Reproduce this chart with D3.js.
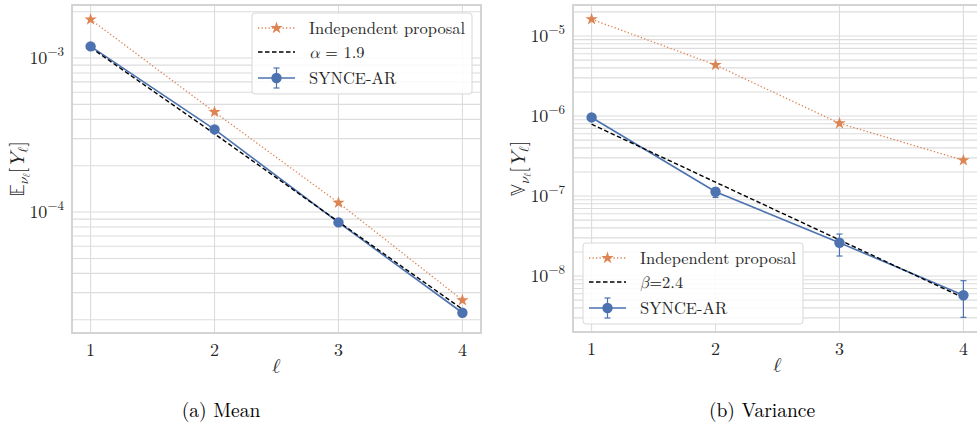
<!DOCTYPE html>
<html>
<head>
<meta charset="utf-8">
<script src="https://cdn.jsdelivr.net/npm/d3@7"></script>
<style>
  body { margin: 0; background: #fff; }
</style>
</head>
<body>
<div id="page"></div>
<script>
// levels on the x axis
const levels = [1, 2, 3, 4];
const xTicks = [1, 2, 3, 4];

// (a) mean
const meanIndep = [1.78e-3, 4.46e-4, 1.15e-4, 2.68e-5];
const meanRate = [1.17e-3, 3.22e-4, 8.65e-5, 2.34e-5];
const meanSynce = [1.19e-3, 3.44e-4, 8.57e-5, 2.22e-5];
const meanSynceLo = [1.17e-3, 3.38e-4, 8.45e-5, 2.18e-5];
const meanSynceHi = [1.21e-3, 3.50e-4, 8.69e-5, 2.26e-5];
const meanTicks = [1e-4, 1e-3];

// (b) variance
const varIndep = [1.62e-5, 4.34e-6, 8.1e-7, 2.8e-7];
const varRate = [7.9e-7, 1.49e-7, 2.83e-8, 5.36e-9];
const varSynce = [9.6e-7, 1.13e-7, 2.61e-8, 5.76e-9];
const varSynceLo = [9.3e-7, 9.6e-8, 1.78e-8, 3.05e-9];
const varSynceHi = [9.9e-7, 1.25e-7, 3.35e-8, 8.75e-9];
const varTicks = [1e-8, 1e-7, 1e-6, 1e-5];

const blue = '#4c72b0';
const orange = '#dd8452';
const gridColor = '#dcdcdc';
const textColor = '#262626';
const mathFont = '"Latin Modern Math", "Latin Modern Roman", serif';

const width = 977;
const height = 427;

const svg = d3.select('#page')
              .append('svg')
              .attr('width', width)
              .attr('height', height)
              .attr('font-family', '"Latin Modern Roman", "Liberation Serif", serif');

function drawPanel(p) {
    const x = d3.scaleLinear().domain([0.85, 4.15]).range([p.left, p.left + 409]);
    const y = d3.scaleLog().domain(p.yDomain).range([p.bottom, p.top]);

    const defs = svg.append('defs');
    defs.append('clipPath').attr('id', p.id + '-clip')
        .append('rect')
        .attr('x', p.left).attr('y', p.top)
        .attr('width', 409).attr('height', p.bottom - p.top);

    const g = svg.append('g');

    // minor + major horizontal grid
    const lo = Math.floor(Math.log10(p.yDomain[0]));
    const hi = Math.ceil(Math.log10(p.yDomain[1]));
    const minor = [];
    for (let k = lo; k <= hi; k++) {
        for (let m = 1; m <= 9; m++) {
            const v = m * Math.pow(10, k);
            if (v > p.yDomain[0] && v < p.yDomain[1]) minor.push(v);
        }
    }
    g.selectAll('.hgrid')
     .data(minor)
     .enter()
     .append('line')
     .attr('x1', p.left).attr('x2', p.left + 409)
     .attr('y1', d => y(d)).attr('y2', d => y(d))
     .attr('stroke', gridColor)
     .attr('stroke-width', 1.1);

    g.selectAll('.vgrid')
     .data(xTicks)
     .enter()
     .append('line')
     .attr('x1', d => x(d)).attr('x2', d => x(d))
     .attr('y1', p.top).attr('y2', p.bottom)
     .attr('stroke', gridColor)
     .attr('stroke-width', 1.1);

    // frame
    g.append('rect')
     .attr('x', p.left).attr('y', p.top)
     .attr('width', 409).attr('height', p.bottom - p.top)
     .attr('fill', 'none')
     .attr('stroke', '#d0d0d0')
     .attr('stroke-width', 1.8);

    // tick labels
    g.selectAll('.xt')
     .data(xTicks)
     .enter()
     .append('text')
     .attr('x', d => x(d))
     .attr('y', p.bottom + 23)
     .attr('text-anchor', 'middle')
     .attr('fill', textColor)
     .attr('font-size', 18)
     .text(d => d);

    const yt = g.selectAll('.yt')
                .data(p.yTicks)
                .enter()
                .append('text')
                .attr('x', p.left - 8)
                .attr('y', d => y(d) + 6)
                .attr('text-anchor', 'end')
                .attr('fill', textColor)
                .attr('font-size', 18);
    yt.append('tspan').text('10');
    yt.append('tspan')
      .attr('dy', -8)
      .attr('font-size', 13)
      .text(d => '\u2212' + Math.round(-Math.log10(d)));

    // x label
    g.append('text')
     .attr('x', (p.left + p.left + 409) / 2)
     .attr('y', p.bottom + 40)
     .attr('text-anchor', 'middle')
     .attr('fill', textColor)
     .attr('font-size', 20)
     .attr('font-family', mathFont)
     .text('\u2113');

    // y label
    const yl = g.append('text')
                .attr('transform', `translate(${p.ylabelX},${(p.top + p.bottom) / 2}) rotate(-90)`)
                .attr('text-anchor', 'middle')
                .attr('fill', textColor)
                .attr('font-family', mathFont)
                .attr('font-size', 20);
    yl.append('tspan').attr('font-family', '"Latin Modern Math", "DejaVu Sans"').text(p.ylabelSym);
    yl.append('tspan').attr('dy', 4).attr('font-size', 14).attr('font-style', 'italic').text('\u03bd');
    yl.append('tspan').attr('dy', 2).attr('font-size', 10).text('\u2113');
    yl.append('tspan').attr('dy', -6).text('[');
    yl.append('tspan').attr('font-style', 'italic').text('Y');
    yl.append('tspan').attr('dy', 4).attr('font-size', 14).text('\u2113');
    yl.append('tspan').attr('dy', -4).text(']');

    const plot = g.append('g').attr('clip-path', `url(#${p.id}-clip)`);
    const line = d3.line().x((d, i) => x(levels[i])).y(d => y(d));

    // independent proposal
    plot.append('path')
        .datum(p.indep)
        .attr('d', line)
        .attr('fill', 'none')
        .attr('stroke', orange)
        .attr('stroke-width', 1.3)
        .attr('stroke-dasharray', '1.3,2.2');

    plot.selectAll('.star')
        .data(p.indep)
        .enter()
        .append('path')
        .attr('d', d3.symbol().type(d3.symbolStar).size(48))
        .attr('transform', (d, i) => `translate(${x(levels[i])},${y(d)})`)
        .attr('fill', orange);

    // SYNCE-AR line and error bars
    plot.append('path')
        .datum(p.synce)
        .attr('d', line)
        .attr('fill', 'none')
        .attr('stroke', blue)
        .attr('stroke-width', 1.6);

    const eb = plot.selectAll('.eb')
                   .data(levels)
                   .enter()
                   .append('g')
                   .attr('stroke', blue)
                   .attr('stroke-width', 1.2);
    eb.append('line')
      .attr('x1', d => x(d)).attr('x2', d => x(d))
      .attr('y1', (d, i) => y(p.synceLo[i])).attr('y2', (d, i) => y(p.synceHi[i]));
    eb.append('line')
      .attr('x1', d => x(d) - 3).attr('x2', d => x(d) + 3)
      .attr('y1', (d, i) => y(p.synceLo[i])).attr('y2', (d, i) => y(p.synceLo[i]));
    eb.append('line')
      .attr('x1', d => x(d) - 3).attr('x2', d => x(d) + 3)
      .attr('y1', (d, i) => y(p.synceHi[i])).attr('y2', (d, i) => y(p.synceHi[i]));

    // rate line
    plot.append('path')
        .datum(p.rate)
        .attr('d', line)
        .attr('fill', 'none')
        .attr('stroke', '#000')
        .attr('stroke-width', 1.4)
        .attr('stroke-dasharray', '4.5,2.5');

    plot.selectAll('.dot')
        .data(p.synce)
        .enter()
        .append('circle')
        .attr('cx', (d, i) => x(levels[i]))
        .attr('cy', d => y(d))
        .attr('r', 5.2)
        .attr('fill', blue);

    // legend
    const lg = g.append('g').attr('transform', `translate(${p.legX},${p.legY})`);
    lg.append('rect')
      .attr('width', 220).attr('height', 81)
      .attr('rx', 3)
      .attr('fill', '#fff').attr('fill-opacity', 0.85)
      .attr('stroke', '#d8d8d8').attr('stroke-width', 1);

    const rows = [15, 39, 65];
    const hx0 = 6, hx1 = 43, hxm = 24.5;

    lg.append('line')
      .attr('x1', hx0).attr('x2', hx1).attr('y1', rows[0]).attr('y2', rows[0])
      .attr('stroke', orange).attr('stroke-width', 1.3).attr('stroke-dasharray', '1.3,2.2');
    lg.append('path')
      .attr('d', d3.symbol().type(d3.symbolStar).size(48))
      .attr('transform', `translate(${hxm},${rows[0]})`)
      .attr('fill', orange);

    lg.append('line')
      .attr('x1', hx0).attr('x2', hx1).attr('y1', rows[1]).attr('y2', rows[1])
      .attr('stroke', '#000').attr('stroke-width', 1.4).attr('stroke-dasharray', '4.5,2.5');

    lg.append('line')
      .attr('x1', hx0).attr('x2', hx1).attr('y1', rows[2]).attr('y2', rows[2])
      .attr('stroke', blue).attr('stroke-width', 1.6);
    lg.append('line')
      .attr('x1', hxm).attr('x2', hxm).attr('y1', rows[2] - 10).attr('y2', rows[2] + 10)
      .attr('stroke', blue).attr('stroke-width', 1.2);
    [rows[2] - 10, rows[2] + 10].forEach(v => {
        lg.append('line')
          .attr('x1', hxm - 3).attr('x2', hxm + 3).attr('y1', v).attr('y2', v)
          .attr('stroke', blue).attr('stroke-width', 1.2);
    });
    lg.append('circle').attr('cx', hxm).attr('cy', rows[2]).attr('r', 5.2).attr('fill', blue);

    const lt = (row) => lg.append('text')
                          .attr('x', 57).attr('y', row + 5.5)
                          .attr('fill', textColor)
                          .attr('font-size', 16.5);
    lt(rows[0]).text('Independent proposal');
    const l2 = lt(rows[1]);
    l2.append('tspan').attr('font-family', mathFont).attr('font-style', 'italic').text(p.rateSym);
    l2.append('tspan').text(p.rateText);
    lt(rows[2]).text('SYNCE-AR');

    // caption
    svg.append('text')
       .attr('x', p.captionX)
       .attr('y', 417)
       .attr('text-anchor', 'middle')
       .attr('fill', '#000')
       .attr('font-size', 19.5)
       .text(p.caption);
}

drawPanel({
    id: 'mean', left: 72, top: 5, bottom: 333,
    yDomain: [1.64e-5, 2.21e-3], yTicks: meanTicks,
    indep: meanIndep, rate: meanRate,
    synce: meanSynce, synceLo: meanSynceLo, synceHi: meanSynceHi,
    ylabelX: 24, ylabelSym: '\ud835\udd3c',
    legX: 252, legY: 13,
    rateSym: '\u03b1', rateText: ' = 1.9',
    caption: '(a) Mean', captionX: 221
});

drawPanel({
    id: 'var', left: 573, top: 5, bottom: 332,
    yDomain: [2.0e-9, 2.44e-5], yTicks: varTicks,
    indep: varIndep, rate: varRate,
    synce: varSynce, synceLo: varSynceLo, synceHi: varSynceHi,
    ylabelX: 525, ylabelSym: '\ud835\udd4d',
    legX: 583, legY: 243,
    rateSym: '\u03b2', rateText: '=2.4',
    caption: '(b) Variance', captionX: 762
});
</script>
</body>
</html>
